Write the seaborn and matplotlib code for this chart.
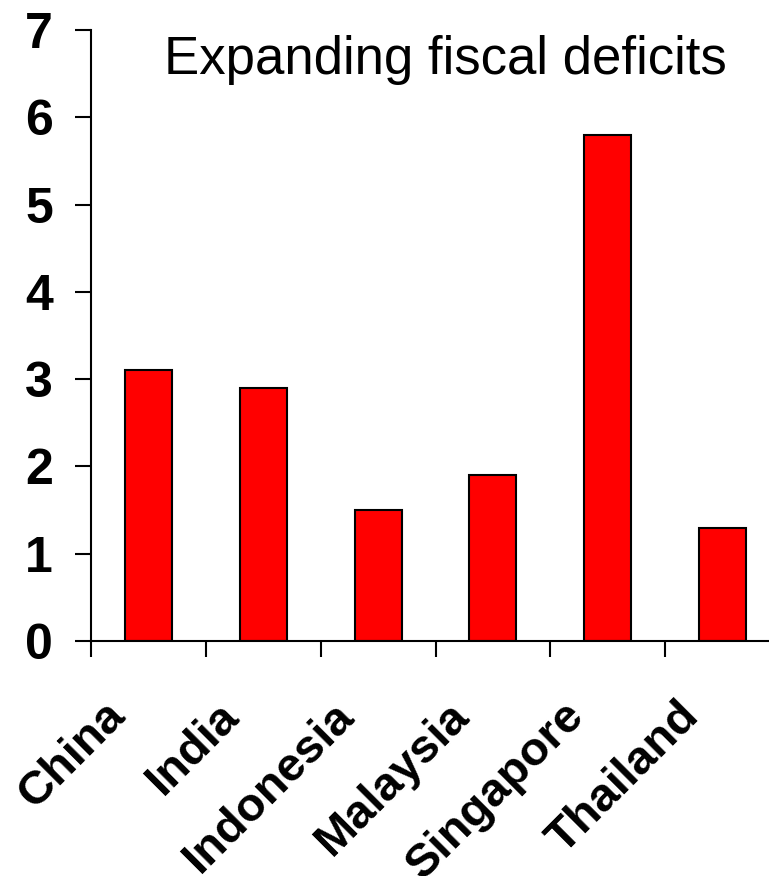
import numpy as np
import pandas as pd
import matplotlib
matplotlib.use('Agg')
import matplotlib.pyplot as plt
import matplotlib.transforms as mtransforms
import seaborn as sns

countries = ['China', 'India', 'Indonesia', 'Malaysia', 'Singapore', 'Thailand']
deficits = [3.1, 2.9, 1.5, 1.9, 5.8, 1.3]
y_ticks = [0, 1, 2, 3, 4, 5, 6, 7]
title = 'Expanding fiscal deficits'

df = pd.DataFrame({'country': countries, 'deficit': deficits})

sns.set_style('ticks')
plt.rcParams['font.family'] = ['Liberation Sans', 'DejaVu Sans']
plt.rcParams['text.color'] = 'black'
plt.rcParams['xtick.color'] = 'black'
plt.rcParams['ytick.color'] = 'black'
plt.rcParams['axes.edgecolor'] = 'black'

fig = plt.figure(figsize=(7.69, 8.76), dpi=100)
ax = fig.add_axes([91 / 769, 235 / 876, 689 / 769, 611 / 876])

sns.barplot(data=df, x='country', y='deficit', color='#ff0000', saturation=1,
            edgecolor='black', linewidth=1.5, width=0.41, ax=ax)

ax.set_xlim(-0.5, 5.5)
ax.set_ylim(0, 7)
ax.set_yticks(y_ticks)
ax.set_yticklabels([str(t) for t in y_ticks], fontsize=36, fontweight='bold', color='black')
ax.tick_params(axis='y', length=11.5, width=1.5, pad=16, color='black')

# boundary ticks as major, country names on minor ticks at the centres
ax.set_xticks(np.arange(-0.5, 6, 1))
ax.set_xticklabels([])
ax.set_xticks(np.arange(len(countries)), minor=True)
ax.set_xticklabels(countries, minor=True, rotation=45, ha='right', va='top',
                   fontsize=34, fontweight='bold', color='black')
ax.tick_params(axis='x', which='major', length=11.5, width=1.5, color='black')
ax.tick_params(axis='x', which='minor', length=0, pad=38)
offset = mtransforms.ScaledTranslation(-15 / 100, 0, fig.dpi_scale_trans)
for lab in ax.get_xticklabels(minor=True):
    lab.set_transform(lab.get_transform() + offset)

ax.set_xlabel('')
ax.set_ylabel('')
sns.despine(ax=ax, top=True, right=True)
for s in ['left', 'bottom']:
    ax.spines[s].set_linewidth(1.5)
    ax.spines[s].set_color('black')

fig.text(445 / 769, (876 - 74) / 876, title, fontsize=38, ha='center', va='baseline',
         color='black')

fig.savefig('out.png', dpi=100)
plt.close()
